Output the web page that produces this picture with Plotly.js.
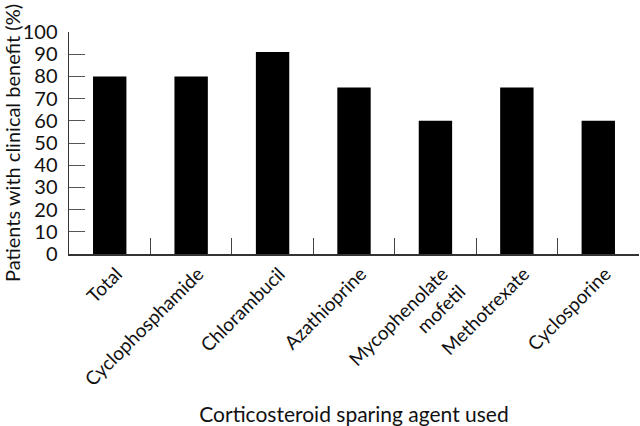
<!DOCTYPE html>
<html>
<head>
<meta charset="utf-8">
<script src="https://cdn.plot.ly/plotly-3.0.1.min.js"></script>
<style>
  html, body { margin: 0; padding: 0; background: #fff; }
  #chart { width: 640px; height: 426px; }
</style>
</head>
<body>
<div id="chart"></div>
<script>
const agents = ['Total', 'Cyclophosphamide', 'Chlorambucil', 'Azathioprine',
  'Mycophenolate<br>mofetil', 'Methotrexate', 'Cyclosporine'];
const benefitPct = [80, 80, 91, 75, 60, 75, 60];
const yTicks = [0, 10, 20, 30, 40, 50, 60, 70, 80, 90, 100];

const fontFam = 'Lato, "DejaVu Sans", sans-serif';

const trace = {
  type: 'bar',
  x: agents,
  y: benefitPct,
  width: 0.41,
  marker: { color: '#000', line: { width: 0 } },
  hoverinfo: 'skip'
};

const layout = {
  width: 640,
  height: 426,
  margin: { l: 69, r: 1, t: 32, b: 172 },
  paper_bgcolor: '#fff',
  plot_bgcolor: '#fff',
  font: { family: fontFam, size: 19, color: '#111' },
  showlegend: false,
  bargap: 0.59,
  xaxis: {
    type: 'category',
    showline: true,
    linecolor: '#333',
    linewidth: 1.5,
    ticks: 'inside',
    tickson: 'boundaries',
    ticklen: 16,
    tickcolor: '#444',
    tickwidth: 1,
    tickangle: -45,
    ticklabelstandoff: 0,
    ticklabelshift: 7,
    tickfont: { family: fontFam, size: 19, color: '#111' },
    showgrid: false,
    zeroline: false,
    fixedrange: true,
    automargin: false,
    title: {
      text: 'Corticosteroid sparing agent used',
      font: { family: fontFam, size: 21, color: '#111' },
      standoff: 20
    }
  },
  yaxis: {
    range: [0, 100],
    tickvals: yTicks,
    showline: true,
    linecolor: '#333',
    linewidth: 1.5,
    ticks: 'inside',
    ticklen: 16,
    tickcolor: '#555',
    tickwidth: 1,
    ticklabelstandoff: 6,
    tickfont: { family: fontFam, size: 20, color: '#111' },
    showgrid: false,
    zeroline: false,
    fixedrange: true,
    automargin: false,
    title: {
      text: 'Patients with clinical benefit (%)',
      font: { family: fontFam, size: 20, color: '#111' },
      standoff: 10
    }
  }
};

Plotly.newPlot('chart', [trace], layout, { displayModeBar: false, staticPlot: true });
</script>
</body>
</html>
